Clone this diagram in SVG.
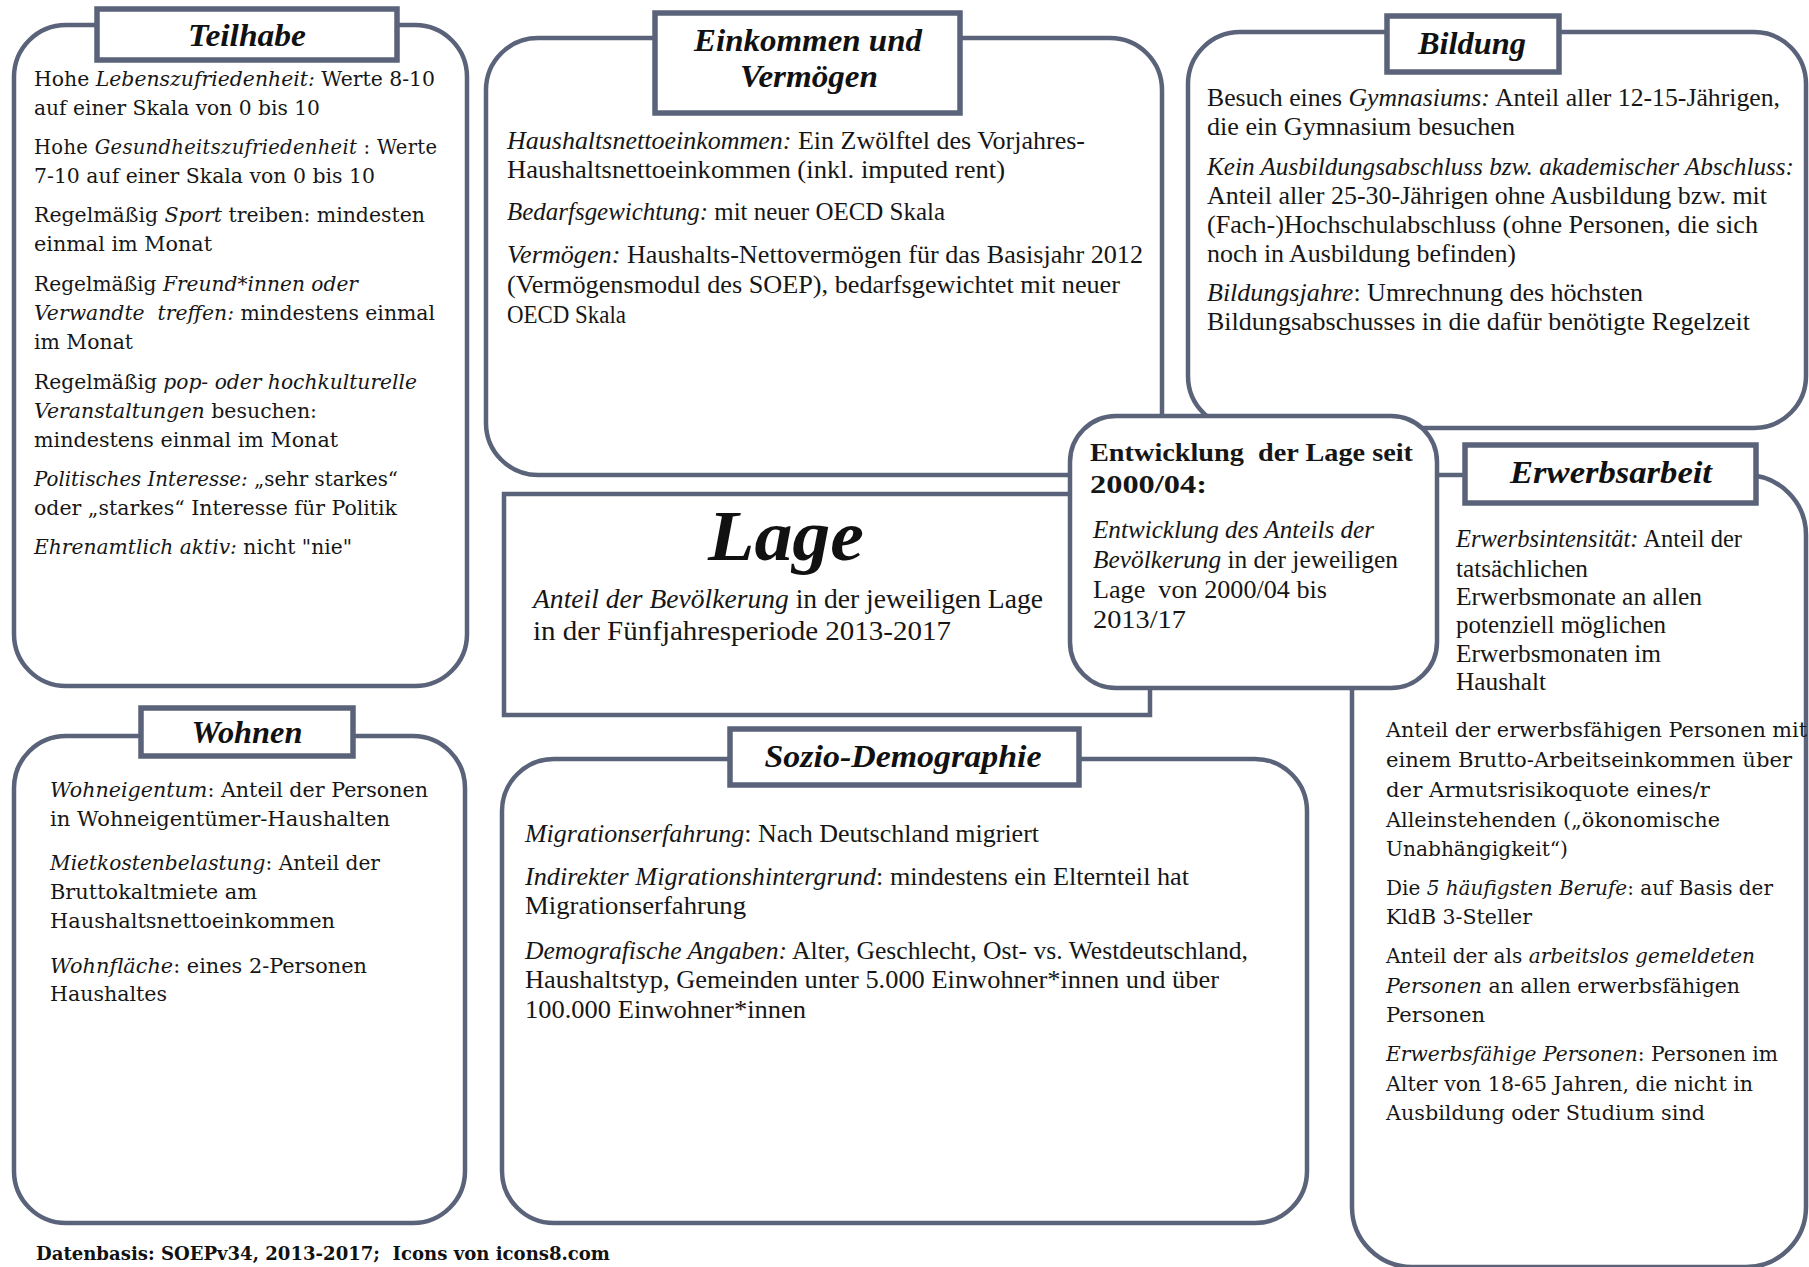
<svg xmlns="http://www.w3.org/2000/svg" width="1809" height="1267" viewBox="0 0 1809 1267">
<style>
.box{fill:#fff;stroke:#5a6379;stroke-width:4.5}
.tb{fill:#fff;stroke:#5a6379;stroke-width:5.5}
.w{font-family:"DejaVu Serif",serif;font-size:21px;fill:#161616}
.c{font-family:"Liberation Serif",serif;font-size:25px;fill:#161616}
.t{font-family:"Liberation Serif",serif;font-size:31px;font-weight:bold;font-style:italic;text-anchor:middle;fill:#111}
.i{font-style:italic}
</style>
<rect x="0" y="0" width="1809" height="1267" fill="#fff"/>
<g id="connectors"/>

<g id="teilhabe">
<rect class="box" x="14" y="25" width="453" height="661" rx="52"/>
<rect class="tb" x="97" y="9" width="300" height="51"/>
<text class="t" x="247" y="46" textLength="118" lengthAdjust="spacingAndGlyphs">Teilhabe</text>
<text class="w" x="34" y="86" textLength="401" lengthAdjust="spacingAndGlyphs">Hohe <tspan class="i">Lebenszufriedenheit:</tspan> Werte 8-10</text>
<text class="w" x="34" y="115" textLength="286" lengthAdjust="spacingAndGlyphs">auf einer Skala von 0 bis 10</text>
<text class="w" x="34" y="154" style="font-size:19.5px" textLength="403" lengthAdjust="spacing">Hohe <tspan class="i">Gesundheitszufriedenheit</tspan> : Werte</text>
<text class="w" x="34" y="183" textLength="341" lengthAdjust="spacingAndGlyphs">7-10 auf einer Skala von 0 bis 10</text>
<text class="w" x="34" y="222" textLength="391" lengthAdjust="spacingAndGlyphs">Regelmäßig <tspan class="i">Sport</tspan> treiben: mindesten</text>
<text class="w" x="34" y="251" textLength="178" lengthAdjust="spacingAndGlyphs">einmal im Monat</text>
<text class="w" x="34" y="291" textLength="324" lengthAdjust="spacingAndGlyphs">Regelmäßig <tspan class="i">Freund*innen oder</tspan></text>
<text class="w" x="34" y="320" textLength="401" lengthAdjust="spacingAndGlyphs" xml:space="preserve"><tspan class="i">Verwandte  treffen:</tspan> mindestens einmal</text>
<text class="w" x="34" y="349" textLength="99" lengthAdjust="spacingAndGlyphs">im Monat</text>
<text class="w" x="34" y="389" textLength="383" lengthAdjust="spacingAndGlyphs">Regelmäßig <tspan class="i">pop- oder hochkulturelle</tspan></text>
<text class="w" x="34" y="418" textLength="283" lengthAdjust="spacingAndGlyphs"><tspan class="i">Veranstaltungen</tspan> besuchen:</text>
<text class="w" x="34" y="447" textLength="304" lengthAdjust="spacingAndGlyphs">mindestens einmal im Monat</text>
<text class="w" x="34" y="486" textLength="364" lengthAdjust="spacingAndGlyphs"><tspan class="i">Politisches Interesse:</tspan> „sehr starkes“</text>
<text class="w" x="34" y="515" textLength="363" lengthAdjust="spacingAndGlyphs">oder „starkes“ Interesse für Politik</text>
<text class="w" x="34" y="554" textLength="318" lengthAdjust="spacingAndGlyphs"><tspan class="i">Ehrenamtlich aktiv:</tspan> nicht &quot;nie&quot;</text>
</g>

<g id="einkommen">
<rect class="box" x="486" y="38" width="676" height="437" rx="52"/>
<rect class="tb" x="655" y="13" width="305" height="100"/>
<text class="t" x="808" y="51" textLength="228" lengthAdjust="spacingAndGlyphs">Einkommen und</text>
<text class="t" x="809" y="87" textLength="138" lengthAdjust="spacingAndGlyphs">Vermögen</text>
<text class="c" x="507" y="149" textLength="578" lengthAdjust="spacingAndGlyphs"><tspan class="i">Haushaltsnettoeinkommen:</tspan> Ein Zwölftel des Vorjahres-</text>
<text class="c" x="507" y="178" textLength="498" lengthAdjust="spacingAndGlyphs">Haushaltsnettoeinkommen (inkl. imputed rent)</text>
<text class="c" x="507" y="220" textLength="438" lengthAdjust="spacingAndGlyphs"><tspan class="i">Bedarfsgewichtung:</tspan> mit neuer OECD Skala</text>
<text class="c" x="507" y="263" textLength="636" lengthAdjust="spacingAndGlyphs"><tspan class="i">Vermögen:</tspan> Haushalts-Nettovermögen für das Basisjahr 2012</text>
<text class="c" x="507" y="293" textLength="613" lengthAdjust="spacingAndGlyphs">(Vermögensmodul des SOEP), bedarfsgewichtet mit neuer</text>
<text class="c" x="507" y="323" textLength="119" lengthAdjust="spacingAndGlyphs">OECD Skala</text>
</g>

<g id="bildung">
<rect class="box" x="1188" y="32" width="618" height="396" rx="52"/>
<rect class="tb" x="1387" y="16" width="172" height="56"/>
<text class="t" x="1472" y="54" textLength="108" lengthAdjust="spacingAndGlyphs">Bildung</text>
<text class="c" x="1207" y="106" textLength="573" lengthAdjust="spacingAndGlyphs">Besuch eines <tspan class="i">Gymnasiums:</tspan> Anteil aller 12-15-Jährigen,</text>
<text class="c" x="1207" y="135" textLength="308" lengthAdjust="spacingAndGlyphs">die ein Gymnasium besuchen</text>
<text class="c i" x="1207" y="175" textLength="587" lengthAdjust="spacingAndGlyphs">Kein Ausbildungsabschluss bzw. akademischer Abschluss:</text>
<text class="c" x="1207" y="204" textLength="560" lengthAdjust="spacingAndGlyphs">Anteil aller 25-30-Jährigen ohne Ausbildung bzw. mit</text>
<text class="c" x="1207" y="233" textLength="551" lengthAdjust="spacingAndGlyphs">(Fach-)Hochschulabschluss (ohne Personen, die sich</text>
<text class="c" x="1207" y="262" textLength="309" lengthAdjust="spacingAndGlyphs">noch in Ausbildung befinden)</text>
<text class="c" x="1207" y="301" textLength="436" lengthAdjust="spacingAndGlyphs"><tspan class="i">Bildungsjahre</tspan>: Umrechnung des höchsten</text>
<text class="c" x="1207" y="330" textLength="543" lengthAdjust="spacingAndGlyphs">Bildungsabschusses in die dafür benötigte Regelzeit</text>
</g>

<g id="lage">
<rect class="box" x="504" y="494" width="646" height="221"/>
<text class="t" x="786" y="560" style="font-size:72px" textLength="156" lengthAdjust="spacingAndGlyphs">Lage</text>
<text class="c" x="533" y="608" style="font-size:27px" textLength="510" lengthAdjust="spacingAndGlyphs"><tspan class="i">Anteil der Bevölkerung</tspan> in der jeweiligen Lage</text>
<text class="c" x="533" y="640" style="font-size:27px" textLength="418" lengthAdjust="spacingAndGlyphs">in der Fünfjahresperiode 2013-2017</text>
</g>

<g id="erwerbsarbeit">
<rect class="box" x="1352" y="475" width="454" height="792" rx="60"/>
<rect class="tb" x="1465" y="445" width="291" height="58"/>
<text class="t" x="1611" y="483" textLength="202" lengthAdjust="spacingAndGlyphs">Erwerbsarbeit</text>
<text class="c" x="1456" y="547" textLength="286" lengthAdjust="spacingAndGlyphs"><tspan class="i">Erwerbsintensität:</tspan> Anteil der</text>
<text class="c" x="1456" y="577" textLength="132" lengthAdjust="spacingAndGlyphs">tatsächlichen</text>
<text class="c" x="1456" y="605" textLength="246" lengthAdjust="spacingAndGlyphs">Erwerbsmonate an allen</text>
<text class="c" x="1456" y="633" textLength="210" lengthAdjust="spacingAndGlyphs">potenziell möglichen</text>
<text class="c" x="1456" y="662" textLength="205" lengthAdjust="spacingAndGlyphs">Erwerbsmonaten im</text>
<text class="c" x="1456" y="690" textLength="90" lengthAdjust="spacingAndGlyphs">Haushalt</text>
<text class="w" x="1386" y="737" textLength="421" lengthAdjust="spacingAndGlyphs">Anteil der erwerbsfähigen Personen mit</text>
<text class="w" x="1386" y="767" textLength="406" lengthAdjust="spacingAndGlyphs">einem Brutto-Arbeitseinkommen über</text>
<text class="w" x="1386" y="797" textLength="324" lengthAdjust="spacingAndGlyphs">der Armutsrisikoquote eines/r</text>
<text class="w" x="1386" y="827" textLength="334" lengthAdjust="spacingAndGlyphs">Alleinstehenden („ökonomische</text>
<text class="w" x="1386" y="856" textLength="182" lengthAdjust="spacingAndGlyphs">Unabhängigkeit“)</text>
<text class="w" x="1386" y="895" textLength="387" lengthAdjust="spacingAndGlyphs">Die <tspan class="i">5 häufigsten Berufe</tspan>: auf Basis der</text>
<text class="w" x="1386" y="924" textLength="146" lengthAdjust="spacingAndGlyphs">KldB 3-Steller</text>
<text class="w" x="1386" y="963" textLength="369" lengthAdjust="spacingAndGlyphs">Anteil der als <tspan class="i">arbeitslos gemeldeten</tspan></text>
<text class="w" x="1386" y="993" textLength="354" lengthAdjust="spacingAndGlyphs"><tspan class="i">Personen</tspan> an allen erwerbsfähigen</text>
<text class="w" x="1386" y="1022" textLength="99" lengthAdjust="spacingAndGlyphs">Personen</text>
<text class="w" x="1386" y="1061" textLength="392" lengthAdjust="spacingAndGlyphs"><tspan class="i">Erwerbsfähige Personen</tspan>: Personen im</text>
<text class="w" x="1386" y="1091" textLength="367" lengthAdjust="spacingAndGlyphs">Alter von 18-65 Jahren, die nicht in</text>
<text class="w" x="1386" y="1120" textLength="319" lengthAdjust="spacingAndGlyphs">Ausbildung oder Studium sind</text>
</g>

<g id="wohnen">
<rect class="box" x="14" y="736" width="451" height="487" rx="52"/>
<rect class="tb" x="141" y="708" width="212" height="48"/>
<text class="t" x="247" y="743" textLength="111" lengthAdjust="spacingAndGlyphs">Wohnen</text>
<text class="w" x="50" y="797" textLength="378" lengthAdjust="spacingAndGlyphs"><tspan class="i">Wohneigentum</tspan>: Anteil der Personen</text>
<text class="w" x="50" y="826" textLength="340" lengthAdjust="spacingAndGlyphs">in Wohneigentümer-Haushalten</text>
<text class="w" x="50" y="870" textLength="330" lengthAdjust="spacingAndGlyphs"><tspan class="i">Mietkostenbelastung</tspan>: Anteil der</text>
<text class="w" x="50" y="899" textLength="207" lengthAdjust="spacingAndGlyphs">Bruttokaltmiete am</text>
<text class="w" x="50" y="928" textLength="285" lengthAdjust="spacingAndGlyphs">Haushaltsnettoeinkommen</text>
<text class="w" x="50" y="973" textLength="317" lengthAdjust="spacingAndGlyphs"><tspan class="i">Wohnfläche</tspan>: eines 2-Personen</text>
<text class="w" x="50" y="1001" textLength="117" lengthAdjust="spacingAndGlyphs">Haushaltes</text>
</g>

<g id="sozio-demographie">
<rect class="box" x="502" y="759" width="805" height="464" rx="52"/>
<rect class="tb" x="730" y="729" width="349" height="56"/>
<text class="t" x="903" y="767" textLength="277" lengthAdjust="spacingAndGlyphs">Sozio-Demographie</text>
<text class="c" x="525" y="842" textLength="514" lengthAdjust="spacingAndGlyphs"><tspan class="i">Migrationserfahrung</tspan>: Nach Deutschland migriert</text>
<text class="c" x="525" y="885" textLength="664" lengthAdjust="spacingAndGlyphs"><tspan class="i">Indirekter Migrationshintergrund</tspan>: mindestens ein Elternteil hat</text>
<text class="c" x="525" y="914" textLength="221" lengthAdjust="spacingAndGlyphs">Migrationserfahrung</text>
<text class="c" x="525" y="959" textLength="723" lengthAdjust="spacingAndGlyphs"><tspan class="i">Demografische Angaben:</tspan> Alter, Geschlecht, Ost- vs. Westdeutschland,</text>
<text class="c" x="525" y="988" textLength="694" lengthAdjust="spacingAndGlyphs">Haushaltstyp, Gemeinden unter 5.000 Einwohner*innen und über</text>
<text class="c" x="525" y="1018" textLength="281" lengthAdjust="spacingAndGlyphs">100.000 Einwohner*innen</text>
</g>

<g id="entwicklung">
<rect class="box" x="1070" y="416" width="367" height="272" rx="46"/>
<text class="c" x="1090" y="461" style="font-size:26px;font-weight:bold" textLength="323" lengthAdjust="spacingAndGlyphs" xml:space="preserve">Entwicklung  der Lage seit</text>
<text class="c" x="1090" y="493" style="font-size:26px;font-weight:bold" textLength="117" lengthAdjust="spacingAndGlyphs">2000/04:</text>
<text class="c i" x="1093" y="538" textLength="281" lengthAdjust="spacingAndGlyphs">Entwicklung des Anteils der</text>
<text class="c" x="1093" y="568" textLength="305" lengthAdjust="spacingAndGlyphs"><tspan class="i">Bevölkerung</tspan> in der jeweiligen</text>
<text class="c" x="1093" y="598" textLength="234" lengthAdjust="spacingAndGlyphs" xml:space="preserve">Lage  von 2000/04 bis</text>
<text class="c" x="1093" y="628" textLength="93" lengthAdjust="spacingAndGlyphs">2013/17</text>
</g>

<g id="footer">
<text x="36" y="1260" style="font-family:'DejaVu Serif',serif;font-size:18.5px;font-weight:bold;fill:#111" textLength="574" lengthAdjust="spacingAndGlyphs" xml:space="preserve">Datenbasis: SOEPv34, 2013-2017;  Icons von icons8.com</text>
</g>
</svg>
